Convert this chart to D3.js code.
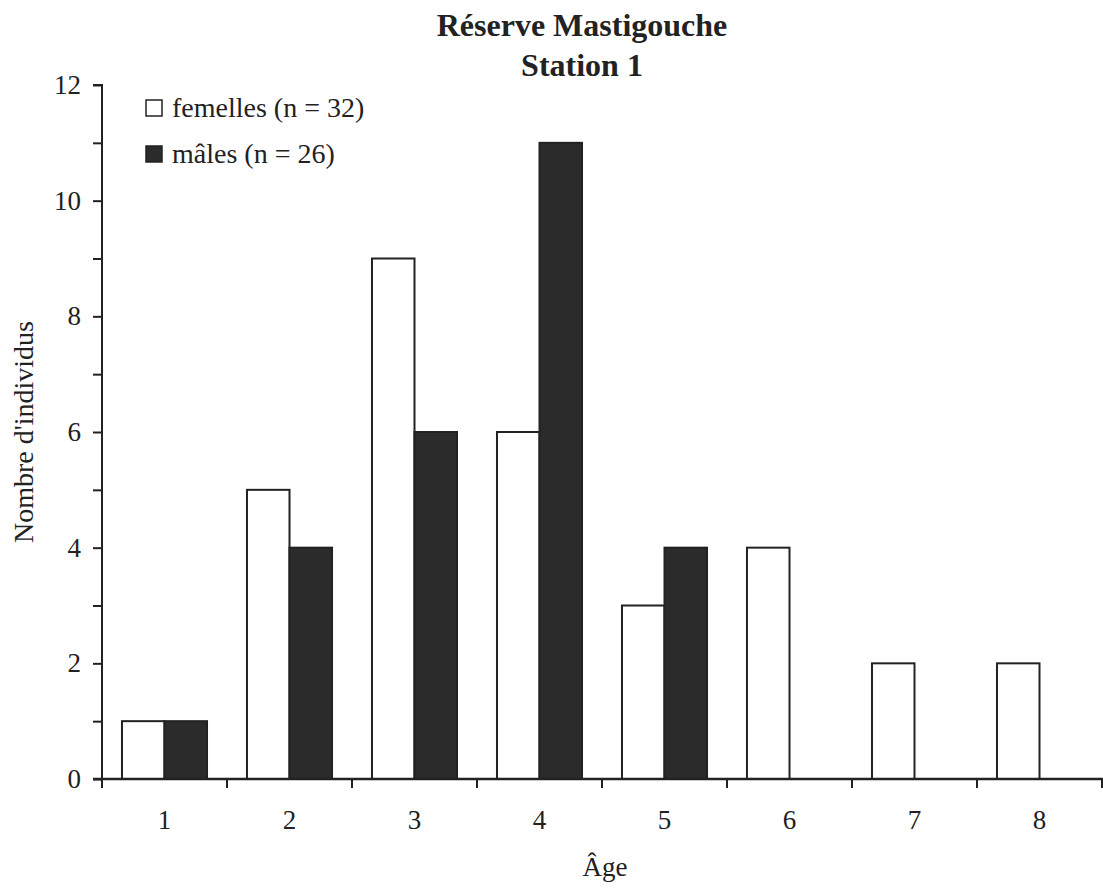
<!DOCTYPE html>
<html>
<head>
<meta charset="utf-8">
<script src="https://cdn.jsdelivr.net/npm/d3@7"></script>
<style>
  body { margin: 0; background: #fff; }
  text { font-family: "Liberation Serif", "DejaVu Serif", serif; fill: #222; }
</style>
</head>
<body>
<div id="chart"></div>
<script>
const ages = ["1", "2", "3", "4", "5", "6", "7", "8"];
const femelles = [1, 5, 9, 6, 3, 4, 2, 2];
const males = [1, 4, 6, 11, 4, 0, 0, 0];
const yTicks = [0, 2, 4, 6, 8, 10, 12];
const seriesNames = ["femelles (n = 32)", "mâles (n = 26)"];

const width = 1103, height = 890;
const margin = {top: 85, right: 1, bottom: 111, left: 102};
const ink = "#222";

const svg = d3.select("#chart").append("svg")
    .attr("width", width)
    .attr("height", height);

const x = d3.scaleBand()
    .domain(ages)
    .range([margin.left, width - margin.right]);

const x1 = d3.scaleBand()
    .domain(["f", "m"])
    .range([0, x.bandwidth()])
    .paddingOuter(0.47);

const y = d3.scaleLinear()
    .domain([0, 12])
    .range([height - margin.bottom, margin.top]);

// bars
const rows = ages.map((a, i) => ({age: a, f: femelles[i], m: males[i]}));
const groups = svg.append("g").selectAll("g")
    .data(rows)
    .enter().append("g")
    .attr("transform", d => `translate(${x(d.age)},0)`);

groups.filter(d => d.f > 0).append("rect")
    .attr("x", x1("f"))
    .attr("y", d => y(d.f))
    .attr("width", x1.bandwidth())
    .attr("height", d => y(0) - y(d.f))
    .attr("fill", "#fff")
    .attr("stroke", ink)
    .attr("stroke-width", 2);

groups.filter(d => d.m > 0).append("rect")
    .attr("x", x1("m"))
    .attr("y", d => y(d.m))
    .attr("width", x1.bandwidth())
    .attr("height", d => y(0) - y(d.m))
    .attr("fill", "#2b2b2b")
    .attr("stroke", ink)
    .attr("stroke-width", 2);

// y axis
const yAxis = svg.append("g")
    .attr("transform", `translate(${margin.left},0)`)
    .call(d3.axisLeft(y).tickValues(d3.range(0, 13)).tickSize(9)
        .tickFormat(d => yTicks.includes(d) ? d : ""));
yAxis.select(".domain").attr("stroke", ink).attr("stroke-width", 2).attr("d", `M-9,${y(12)}H0V${y(0)}`);
yAxis.selectAll(".tick line").attr("stroke", ink).attr("stroke-width", 2);
yAxis.selectAll(".tick text")
    .attr("x", -21)
    .style("font-family", "Liberation Serif, serif")
    .style("font-size", "27px")
    .attr("fill", ink);

// x axis
const xAxis = svg.append("g")
    .attr("transform", `translate(0,${y(0)})`);
xAxis.append("line")
    .attr("x1", margin.left - 9).attr("x2", width)
    .attr("stroke", ink).attr("stroke-width", 2.5);
const bounds = ages.map(a => x(a)).concat([x.range()[1]]);
xAxis.selectAll(".bound")
    .data(bounds)
    .enter().append("line")
    .attr("x1", d => d).attr("x2", d => d)
    .attr("y1", 0).attr("y2", 9)
    .attr("stroke", ink).attr("stroke-width", 2);
xAxis.selectAll(".lab")
    .data(ages)
    .enter().append("text")
    .attr("x", d => x(d) + x.bandwidth() / 2)
    .attr("y", 50)
    .attr("text-anchor", "middle")
    .style("font-size", "27px")
    .text(d => d);

// axis titles
svg.append("text")
    .attr("x", 605).attr("y", 876)
    .attr("text-anchor", "middle")
    .style("font-size", "27px")
    .text("Âge");

svg.append("text")
    .attr("transform", `translate(33,${(y(0) + y(12)) / 2}) rotate(-90)`)
    .attr("text-anchor", "middle")
    .style("font-size", "28px")
    .text("Nombre d'individus");

// title
svg.append("text")
    .attr("x", 582).attr("y", 36)
    .attr("text-anchor", "middle")
    .style("font-size", "32px").style("font-weight", "bold")
    .text("Réserve Mastigouche");
svg.append("text")
    .attr("x", 582).attr("y", 76)
    .attr("text-anchor", "middle")
    .style("font-size", "32px").style("font-weight", "bold")
    .text("Station 1");

// legend
const legend = svg.append("g").selectAll("g")
    .data(seriesNames)
    .enter().append("g")
    .attr("transform", (d, i) => `translate(146,${100 + i * 46})`);
legend.append("rect")
    .attr("width", 16).attr("height", 16)
    .attr("fill", (d, i) => i === 0 ? "#fff" : "#2b2b2b")
    .attr("stroke", ink).attr("stroke-width", 1.5);
legend.append("text")
    .attr("x", 26).attr("y", 17)
    .style("font-size", "28px")
    .text(d => d);
</script>
</body>
</html>
